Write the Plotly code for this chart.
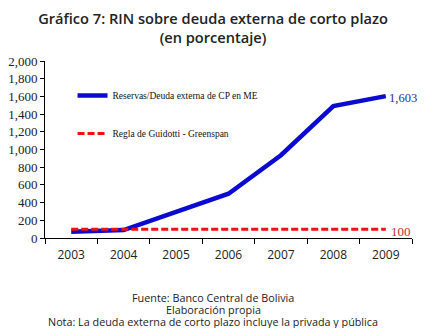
import plotly.graph_objects as go

years = ["2003", "2004", "2005", "2006", "2007", "2008", "2009"]
reservas = [70, 90, 295, 500, 935, 1490, 1603]
guidotti = [100, 100, 100, 100, 100, 100, 100]
y_ticks = [0, 200, 400, 600, 800, 1000, 1200, 1400, 1600, 1800, 2000]
footer = ["Fuente: Banco Central de Bolivia", "Elaboración propia",
          "Nota: La deuda externa de corto plazo incluye la privada y pública"]

fig = go.Figure()
fig.add_trace(go.Scatter(x=years, y=reservas, mode="lines",
                         name="Reservas/Deuda externa de CP en ME", legendgroup="a",
                         line=dict(color="#0a0ad0", width=4.5)))
fig.add_trace(go.Scatter(x=years, y=guidotti, mode="lines",
                         name="Regla de Guidotti - Greenspan", legendgroup="b",
                         line=dict(color="#ee1111", width=3, dash="7px,3px")))

last = len(years) - 1
fig.add_annotation(x=last, y=reservas[-1], text=f"{reservas[-1]:,}",
                   xanchor="left", xshift=1, yshift=-2, showarrow=False,
                   font=dict(family="Liberation Serif", size=12.5, color="#2a2a9a"))
fig.add_annotation(x=last, y=guidotti[-1], text=f"{guidotti[-1]:,}",
                   xanchor="left", xshift=3, yshift=-2, showarrow=False,
                   font=dict(family="Liberation Serif", size=13, color="#c03030"))

for i, t in enumerate(footer):
    fig.add_annotation(xref="paper", yref="paper", x=0.458, y=0,
                       xanchor="center", yanchor="middle", yshift=-59 - i * 12.4,
                       text=t, showarrow=False,
                       font=dict(family="Open Sans", size=10.8, color="#222"))

fig.update_layout(
    width=410, height=320,
    margin=dict(l=37, r=6, t=53, b=90),
    paper_bgcolor="white", plot_bgcolor="white",
    title=dict(text="Gráfico 7: RIN sobre deuda externa de corto plazo<br>(en porcentaje)",
               x=0.5, xanchor="center", y=0.951, yanchor="top",
               font=dict(family="Open Sans", size=14.6, color="#222", weight=600)),
    showlegend=True,
    legend=dict(x=0.075, y=0.887, xanchor="left", yanchor="top",
                bgcolor="rgba(0,0,0,0)", tracegroupgap=19, traceorder="grouped",
                font=dict(family="Liberation Serif", size=9.5, color="#111")),
    xaxis=dict(type="category", range=[-0.5, last + 0.5], automargin=False,
               showline=True, linecolor="black", linewidth=1,
               ticks="outside", ticklen=5, tickcolor="black", tickson="boundaries",
               ticklabelstandoff=6,
               showgrid=False, tickfont=dict(family="Open Sans", size=12, color="#222")),
    yaxis=dict(range=[0, 2000], tickvals=y_ticks, tickformat=",", automargin=False,
               showline=True, linecolor="black", linewidth=1,
               ticks="outside", ticklen=4, tickcolor="black",
               showgrid=False, zeroline=False,
               tickfont=dict(family="Liberation Serif", size=13, color="#222")),
)

fig.write_html("out.html")
